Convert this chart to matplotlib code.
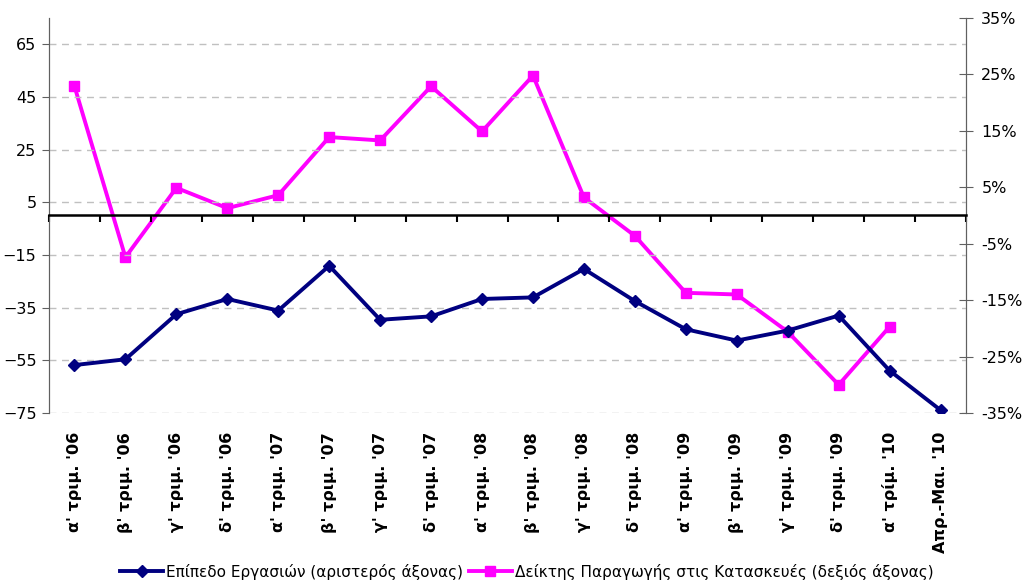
import matplotlib
matplotlib.use('Agg')
import matplotlib.pyplot as plt
import numpy as np
from matplotlib.ticker import FuncFormatter
from matplotlib import font_manager

categories = ["α' τριμ. '06", "β' τριμ. '06", "γ' τριμ. '06", "δ' τριμ. '06",
              "α' τριμ. '07", "β' τριμ. '07", "γ' τριμ. '07", "δ' τριμ. '07",
              "α' τριμ. '08", "β' τριμ. '08", "γ' τριμ. '08", "δ' τριμ. '08",
              "α' τριμ. '09", "β' τριμ. '09", "γ' τριμ. '09", "δ' τριμ. '09",
              "α' τρίμ. '10", "Απρ.-Μαι. '10"]
business_level = [-56.8, -54.6, -37.5, -31.7, -36.1, -19.1, -39.6, -38.3, -31.7,
                  -31.1, -20.3, -32.5, -43.2, -47.5, -43.7, -38.0, -58.9, -73.9]
# right axis, fraction (last month missing)
construction_idx = [0.229, -0.074, 0.049, 0.013, 0.036, 0.139, 0.133, 0.229, 0.149,
                    0.248, 0.032, -0.036, -0.137, -0.140, -0.206, -0.300, -0.197, np.nan]
left_ticks = [-75, -55, -35, -15, 5, 25, 45, 65]
right_ticks = [-0.35, -0.25, -0.15, -0.05, 0.05, 0.15, 0.25, 0.35]

label1 = 'Επίπεδο Εργασιών (αριστερός άξονας)'
label2 = 'Δείκτης Παραγωγής στις Κατασκευές (δεξιός άξονας)'

fig = plt.figure(figsize=(10.23, 5.84), dpi=100)
ax = fig.add_axes([0.0479, 0.2928, 0.8964, 0.6764])
ax2 = ax.twinx()

x = np.arange(len(categories))

l1, = ax.plot(x, business_level, '-', color='#000080', lw=2.8, marker='D',
              markersize=6, label=label1, zorder=4)
l2, = ax2.plot(x, construction_idx, '-', color='#FF00FF', lw=2.8, marker='s',
               markersize=7, label=label2, zorder=4)

ax.set_xlim(-0.5, len(categories) - 0.5)
ax.set_ylim(-75, 75)
ax2.set_ylim(-0.35, 0.35)

ax.set_yticks(left_ticks)
ax.yaxis.grid(True, color='#c0c0c0', linestyle=(0, (5, 4)), lw=1)
ax.tick_params(axis='y', labelsize=11.5, length=5, color='#606060', pad=4)
ax2.set_yticks(right_ticks)
ax2.yaxis.set_major_formatter(FuncFormatter(lambda v, p: '%d%%' % round(v * 100)))
ax2.tick_params(axis='y', labelsize=11.5, length=10, direction='inout',
                color='#606060', pad=6)

for a in (ax, ax2):
    a.spines['top'].set_visible(False)
    a.spines['left'].set_color('#606060')
    a.spines['right'].set_color('#606060')
ax2.spines['bottom'].set_visible(False)

# category axis crossing at zero
ax.spines['bottom'].set_position(('data', 0))
ax.spines['bottom'].set_linewidth(1.8)
ax.spines['bottom'].set_zorder(3)
ax.set_xticks(np.arange(-0.5, len(categories), 1))
ax.set_xticklabels([])
ax.tick_params(axis='x', length=5, width=1.5, direction='out', color='black')

# category labels below the plot area
lab_font = font_manager.FontProperties(family='DejaVu Sans', weight='bold', size=11.5)
trans = ax.get_xaxis_transform()
for xi, cat in zip(x, categories):
    ax.text(xi, -0.048, cat, transform=trans, rotation=90, ha='center', va='top',
            fontproperties=lab_font)

ax.set_zorder(ax2.get_zorder() + 1)
ax.patch.set_visible(False)

fig.legend(handles=[l1, l2], loc='center', bbox_to_anchor=(0.515, 0.021), ncol=2,
           frameon=False, fontsize=11, handlelength=2.8, columnspacing=0.4,
           handletextpad=0.2)

fig.savefig('out.png', dpi=100)
